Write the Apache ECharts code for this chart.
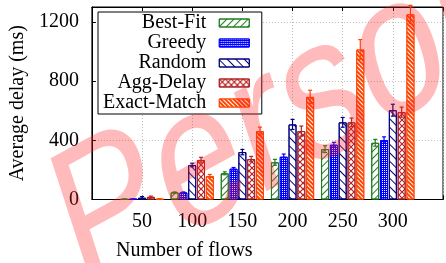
<!DOCTYPE html>
<html>
<head>
<meta charset="utf-8">
<script src="https://cdn.jsdelivr.net/npm/echarts@6/dist/echarts.min.js"></script>
<style>
  html,body{margin:0;padding:0;background:#fff;}
  #chart{width:446px;height:263px;}
</style>
</head>
<body>
<div id="chart"></div>
<script>
/* data */
const flows = ["50", "100", "150", "200", "250", "300"];
const seriesNames = ["Best-Fit", "Greedy", "Random", "Agg-Delay", "Exact-Match"];

const bestFit    = [2, 48, 177, 251, 340, 383];
const greedy     = [3, 48, 208, 289, 370, 401];
const random     = [12, 233, 320, 507, 521, 603];
const aggDelay   = [18, 266, 273, 462, 521, 590];
const exactMatch = [3, 159, 462, 693, 1013, 1251];

const bestFitErr    = [1, 3, 10, 20, 23, 23];
const greedyErr     = [1, 3, 8, 18, 16, 22];
const randomErr     = [8, 12, 18, 34, 33, 40];
const aggDelayErr   = [5, 19, 18, 34, 29, 34];
const exactMatchErr = [2, 10, 27, 45, 67, 60];

const yTicks = [0, 400, 800, 1200];

const values = [bestFit, greedy, random, aggDelay, exactMatch];
const errs = [bestFitErr, greedyErr, randomErr, aggDelayErr, exactMatchErr];
const colors = ["#1f7f1f", "#0000ff", "#000080", "#b22222", "#ff4500"];

const font = "Liberation Serif";
// padded axis: one empty slot on each side so 50 sits one step right of the y axis
const cats = ["0"].concat(flows, ["350"]);
const pad = arr => [null].concat(arr, [null]);

const BAR_W = 8, GAP = 0.8;

const decals = [
	{symbol: "rect", symbolSize: 1, color: colors[0], dashArrayX: [1, 0], dashArrayY: [1, 4], rotation: -Math.PI / 4},
	{symbol: "rect", symbolSize: 1, color: "#ffffff", dashArrayX: [1, 1], dashArrayY: [1, 1], rotation: 0},
	{symbol: "rect", symbolSize: 1, color: colors[2], dashArrayX: [1, 0], dashArrayY: [1, 5], rotation: Math.PI / 4},
	{symbol: "path://M0,0L1.4,0L5,3.6L8.6,0L10,0L10,1.4L6.4,5L10,8.6L10,10L8.6,10L5,6.4L1.4,10L0,10L0,8.6L3.6,5L0,1.4Z",
	 symbolSize: 1, color: colors[3], dashArrayX: [6, 0], dashArrayY: [6, 0], rotation: 0},
	{symbol: "rect", symbolSize: 1, color: "#ffffff", dashArrayX: [1, 0], dashArrayY: [1, 2], rotation: Math.PI / 4}
];
const fills = ["#ffffff", "#0000ff", "#ffffff", "#ffffff", "#ff4500"];

const barSeries = seriesNames.map((name, i) => ({
	name,
	type: "bar",
	data: pad(values[i]),
	barWidth: BAR_W,
	barGap: "10%",
	itemStyle: {color: fills[i], borderColor: colors[i], borderWidth: 1, decal: decals[i]},
	emphasis: {disabled: true},
	z: 2
}));

const errSeries = seriesNames.map((name, i) => ({
	type: "custom",
	name: name + "-err",
	data: pad(values[i]).map((v, k) => v == null ? [k, null, null] : [k, v - errs[i][k - 1], v + errs[i][k - 1]]),
	renderItem(params, api) {
		if (api.value(1) == null || isNaN(api.value(1))) return;
		const off = -((5 * BAR_W + 4 * GAP) / 2) + BAR_W / 2 + i * (BAR_W + GAP);
		const lo = api.coord([api.value(0), api.value(1)]);
		const hi = api.coord([api.value(0), api.value(2)]);
		const x = lo[0] + off, h = 2;
		const st = {stroke: colors[i], lineWidth: 1.2};
		return {type: "group", children: [
			{type: "line", shape: {x1: x, y1: lo[1], x2: x, y2: hi[1]}, style: st},
			{type: "line", shape: {x1: x - h, y1: hi[1], x2: x + h, y2: hi[1]}, style: st},
			{type: "line", shape: {x1: x - h, y1: lo[1], x2: x + h, y2: lo[1]}, style: st}
		]};
	},
	encode: {x: 0, y: [1, 2]},
	z: 3,
	silent: true
}));

const chart = echarts.init(document.getElementById("chart"));
chart.setOption({
	animation: false,
	grid: {left: 86, top: 7, width: 364, height: 192.5, show: true, borderColor: "#000", borderWidth: 1, backgroundColor: "transparent"},
	legend: {
		data: seriesNames,
		orient: "vertical",
		align: "right",
		left: 98,
		top: 12,
		itemWidth: 30,
		itemHeight: 8,
		itemGap: 0,
		padding: [1, 12, 1, 5],
		borderColor: "#000",
		borderWidth: 1,
		backgroundColor: "#fff",
		icon: "rect",
		textStyle: {fontFamily: font, fontSize: 20, color: "#000", lineHeight: 20, padding: [0, 8, 0, 0]},
		itemStyle: {borderWidth: 1},
		selectedMode: false,
		z: 10
	},
	xAxis: [{
		type: "category",
		data: cats,
		boundaryGap: false,
		axisLine: {show: true, lineStyle: {color: "#000", width: 1}},
		axisTick: {show: true, inside: true, length: 4, lineStyle: {color: "#000"}},
		axisLabel: {
			fontFamily: font, fontSize: 20, color: "#000", margin: 12,
			formatter: (v, idx) => (idx === 0 || idx === cats.length - 1) ? "" : v
		},
		splitLine: {show: true, lineStyle: {color: "#bbb", type: [1, 2], width: 1}}
	}, {
		type: "category",
		data: cats,
		boundaryGap: false,
		position: "top",
		axisLine: {show: true, lineStyle: {color: "#000"}},
		axisTick: {show: true, inside: true, length: 4, lineStyle: {color: "#000"}},
		axisLabel: {show: false},
		splitLine: {show: false}
	}],
	yAxis: {
		type: "value",
		min: 0,
		max: 1300,
		interval: 400,
		name: "Average delay (ms)",
		nameLocation: "middle",
		nameGap: 62,
		nameTextStyle: {fontFamily: font, fontSize: 20, color: "#000"},
		axisLine: {show: true, lineStyle: {color: "#000"}},
		axisTick: {show: true, inside: true, length: 4, lineStyle: {color: "#000"}},
		axisLabel: {
			fontFamily: font, fontSize: 20, color: "#000", margin: 13, showMaxLabel: false,
			formatter: v => yTicks.includes(v) ? String(v) : ""
		},
		splitLine: {show: true, lineStyle: {color: "#bbb", type: [1, 2], width: 1}}
	},
	graphic: [{
		type: "text",
		left: 116, top: 241,
		style: {text: "Number of flows", font: "20px " + font, fill: "#000"},
		z: 5
	}, {
		// watermark: rotated, then stretched vertically
		type: "group",
		x: 0, y: 0,
		scaleY: 1.3,
		z: 100,
		silent: true,
		children: [{
			type: "text",
			x: 64, y: 186,
			rotation: 0.40,
			style: {text: "Person", font: "156px 'Liberation Sans'", fill: "rgba(255,30,30,0.3)", verticalAlign: "middle", align: "left"},
			z: 100,
			silent: true
		}]
	}],
	series: barSeries.concat(errSeries)
});
</script>
</body>
</html>
